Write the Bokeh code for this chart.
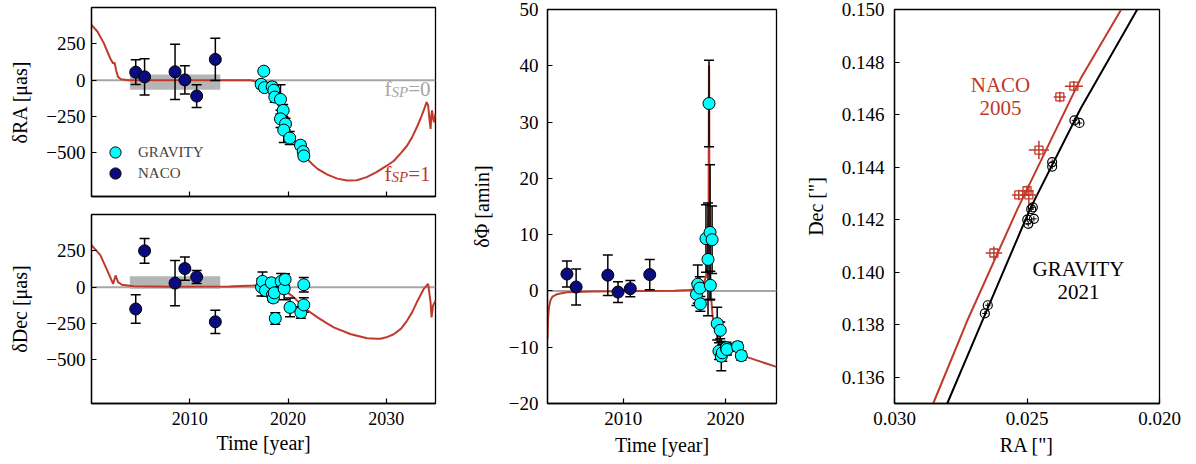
from bokeh.plotting import figure
from bokeh.layouts import row, column
from bokeh.models import (Span, BoxAnnotation, Label, Legend, LegendItem, FixedTicker, Range1d,
                          CustomJSTickFormatter)
from bokeh.embed import file_html
from bokeh.resources import INLINE

FONT = "Liberation Serif"
RED = "#c0392b"
NAVY = "#0b0b80"
CYAN = "#00ffff"
GRAY = "#a6a6a6"

# ---------------- data ----------------
naco_t = [2004.5, 2005.4, 2008.5, 2009.5, 2010.7, 2012.6]
naco_ra = [55, 23, 58, 2, -109, 143]
naco_ra_err = [85, 125, 190, 97, 78, 145]
naco_dec = [-150, 250, 28, 128, 70, -238]
naco_dec_err = [98, 85, 155, 80, 45, 80]
naco_phi = [3.0, 0.7, 2.8, -0.2, 0.4, 2.9]
naco_phi_err = [2.3, 3.2, 3.6, 1.85, 1.45, 2.7]

grav_ra_t = [2017.26, 2017.53, 2017.6, 2018.38, 2018.55, 2018.65, 2019.23, 2019.5,
             2019.23, 2019.74, 2019.56, 2020.17, 2021.26, 2021.54, 2021.6]
grav_ra = [-28, 62, -51, -46, -69, -116, -132, -208, -266, -301, -343, -398, -447, -491, -521]
grav_ra_err = [25, 20, 25, 30, 30, 35, 100, 40, 60, 40, 85, 45, 25, 25, 25]

grav_dec_t = [2017.3, 2017.4, 2017.7, 2018.3, 2018.4, 2018.5, 2018.6, 2018.7,
              2019.3, 2019.6, 2019.7, 2020.2, 2021.3, 2021.6, 2021.6]
grav_dec = [0, 40, -23, 30, -53, -74, -39, -215, 40, -11, 53, -139, -174, 17, -122]
grav_dec_err = [60, 65, 40, 30, 40, 30, 40, 40, 55, 75, 40, 65, 40, 50, 50]

grav_phi_t = [2017.17, 2017.3, 2017.5, 2017.55, 2018.1, 2018.3, 2018.4, 2018.5, 2018.53, 2018.7,
              2019.2, 2019.5, 2019.37, 2019.6, 2019.7, 2020.1, 2020.15, 2021.2, 2021.56]
grav_phi = [-0.6, 1.2, 0.5, -2.3, 9.3, 5.6, 33.3, 10.4, 1.0, 9.1,
            -5.8, -7.0, -10.7, -11.6, -11.0, -10.1, -10.4, -9.9, -11.5]
grav_phi_err = [2.0, 3.4, 2.0, 1.3, 6.0, 10.0, 7.7, 12.0, 2.5, 6.0,
                2.9, 1.5, 1.5, 2.6, 1.5, 1.0, 1.0, 0.8, 0.8]

model_ra_t = [2000.0, 2000.6, 2001.25, 2001.9, 2002.2, 2002.35, 2002.5, 2002.7, 2003.0, 2003.8,
              2010.0, 2016.2, 2016.9, 2017.5, 2018.0, 2018.5, 2019.0, 2019.5, 2020.0, 2020.5,
              2021.0, 2021.5, 2022.0, 2022.5, 2023.0, 2024.0, 2025.0, 2026.0, 2027.0, 2028.0,
              2029.0, 2030.0, 2030.75, 2031.5, 2032.1, 2032.6, 2033.1, 2033.5, 2033.8, 2034.1,
              2034.25, 2034.4, 2034.5, 2034.58, 2034.65, 2034.75, 2034.85, 2035.0]
model_ra = [380, 335, 255, 151, 115, 121, 69, 23, 7, 0,
            0, 0, -12, -35, -65, -105, -170, -250, -330, -400,
            -455, -500, -545, -580, -610, -650, -677, -690, -688, -667,
            -632, -590, -556, -500, -451, -395, -324, -260, -208, -151,
            -174, -278, -335, -243, -208, -260, -290, -230]

model_dec_t = [2000.0, 2000.9, 2001.6, 2002.2, 2002.45, 2002.7, 2003.1, 2004.3, 2008.0, 2014.0,
               2016.5, 2017.5, 2018.5, 2019.2, 2019.9, 2020.5, 2021.3, 2022.0, 2023.0, 2024.0,
               2024.7, 2026.4, 2028.05, 2029.0, 2029.4, 2030.0, 2030.75, 2031.5, 2032.1, 2032.6,
               2033.1, 2033.8, 2034.25, 2034.5, 2034.6, 2034.75, 2035.0]
model_dec = [289, 220, 116, 23, 81, 35, 17, 7, 3, 5,
             12, 17, 13, -5, -35, -65, -116, -160, -208, -250,
             -278, -324, -351, -355, -354, -345, -324, -285, -231, -175,
             -104, -12, 23, -104, -208, -127, -92]

model_phi_t = [2002.6, 2002.65, 2002.75, 2002.9, 2003.1, 2003.5, 2004.5, 2007.0, 2012.0, 2015.0,
               2016.5, 2017.3, 2017.8, 2018.1, 2018.25, 2018.36, 2018.39, 2018.41, 2018.43, 2018.5,
               2018.6, 2018.75, 2018.9, 2019.3, 2019.8, 2020.5, 2021.4, 2022.2, 2023.0, 2024.0, 2025.0]
model_phi = [-8.5, -5.0, -2.8, -1.6, -1.0, -0.6, -0.25, -0.1, 0.0, 0.05,
             0.15, 0.4, 1.0, 2.5, 5.0, 15.0, 40.0, 40.0, 22.0, 4.0,
             -1.0, -4.5, -6.5, -8.2, -9.4, -10.2, -11.2, -11.8, -12.3, -12.9, -13.5]

# right panel (astrometry on sky)
gv_ra = [0.02659, 0.02648, 0.02499, 0.02495, 0.02484, 0.02478, 0.02474, 0.02405, 0.02405, 0.02321, 0.02302]
gv_dec = [0.13843, 0.13874, 0.14200, 0.14184, 0.14240, 0.14247, 0.14203, 0.14402, 0.14419, 0.14578, 0.14568]
gv_err = [0.0001] * 11
nc_ra = [0.02625, 0.02531, 0.02493, 0.02500, 0.02455, 0.02376, 0.02323]
nc_dec = [0.14073, 0.14294, 0.14294, 0.14310, 0.14465, 0.14667, 0.14708]
nc_ra_err = [0.00031, 0.00025, 0.00030, 0.00025, 0.00038, 0.00023, 0.00034]
nc_dec_err = [0.00025, 0.00020, 0.00040, 0.00020, 0.00035, 0.00020, 0.00020]
orbit_naco_ra = [0.02854, 0.02726, 0.02537, 0.02298, 0.021445]
orbit_naco_dec = [0.135, 0.13814, 0.14238, 0.14736, 0.150]
orbit_grav_ra = [0.02801, 0.02669, 0.02487, 0.02298, 0.02084]
orbit_grav_dec = [0.135, 0.13814, 0.14244, 0.14622, 0.150]

ra_ticks = [-500, -250, 0, 250]
year_ticks_left = [2010, 2020, 2030]
year_ticks_mid = [2010, 2020]
phi_ticks = [-20, -10, 0, 10, 20, 30, 40, 50]
dec_sky_ticks = [0.136, 0.138, 0.140, 0.142, 0.144, 0.146, 0.148, 0.150]
ra_sky_ticks = [0.030, 0.025, 0.020]

MINUS_FMT = CustomJSTickFormatter(code="return tick < 0 ? '\u2212' + Math.abs(tick) : '' + tick;")
FIX3_FMT = CustomJSTickFormatter(code="return tick.toFixed(3);")
BLANK_FMT = CustomJSTickFormatter(code="return '';")


def style(p, xticks, yticks, xfmt, yfmt, tick_fs="19px", x_tick_fs=None):
    p.outline_line_color = "black"
    p.outline_line_width = 1.3
    p.background_fill_color = "white"
    p.border_fill_color = "white"
    p.xgrid.visible = False
    p.ygrid.visible = False
    for ax, ticks, fmt in ((p.xaxis, xticks, xfmt), (p.yaxis, yticks, yfmt)):
        ax.ticker = FixedTicker(ticks=ticks, minor_ticks=[])
        ax.formatter = fmt
        ax.axis_line_color = "black"
        ax.axis_line_width = 1.3
        ax.major_tick_in = 5
        ax.major_tick_out = 0
        ax.major_tick_line_color = "black"
        ax.major_tick_line_width = 1.2
        ax.minor_tick_line_color = None
        ax.major_label_text_font = FONT
        ax.major_label_text_font_size = tick_fs
        ax.major_label_text_color = "black"
        ax.axis_label_text_font = FONT
        ax.axis_label_text_font_size = "20px"
        ax.axis_label_text_font_style = "normal"
        ax.axis_label_text_color = "black"
    if x_tick_fs:
        p.xaxis.major_label_text_font_size = x_tick_fs


def vbars(p, x, y, err, color="black", width=1.5, cap=10):
    lo = [a - e for a, e in zip(y, err)]
    hi = [a + e for a, e in zip(y, err)]
    p.segment(x, lo, x, hi, line_color=color, line_width=width)
    if cap:
        p.scatter(list(x) + list(x), lo + hi, marker="dash", size=cap, line_color=color, line_width=width)


def hbars(p, x, y, err, color="black", width=1.5):
    lo = [a - e for a, e in zip(x, err)]
    hi = [a + e for a, e in zip(x, err)]
    p.segment(lo, y, hi, y, line_color=color, line_width=width)


def fsp(p, x, y, digit, color):
    common = dict(x=x, y=y, text_color=color, text_font=FONT, text_align="right", text_baseline="alphabetic")
    p.add_layout(Label(text="=" + digit, text_font_size="21px", **common))
    p.add_layout(Label(text="SP", text_font_size="15px", text_font_style="italic", x_offset=-22.5, y_offset=-3, **common))
    p.add_layout(Label(text="f", text_font_size="21px", x_offset=-39, **common))


def legend_entry(p, label, rend, loc):
    lg = Legend(items=[LegendItem(label=label, renderers=[rend])], location=loc,
                background_fill_alpha=0, border_line_alpha=0,
                label_text_font=FONT, label_text_font_size="15px", glyph_width=28, glyph_height=28,
                label_standoff=9, spacing=0, margin=0, padding=0, label_height=28)
    p.add_layout(lg)


MS = 12

# ---------------- top-left: delta RA ----------------
p1 = figure(width=440, height=207, x_range=Range1d(2000, 2035), y_range=Range1d(-800, 500),
            output_backend="svg", toolbar_location=None,
            min_border_left=91, min_border_right=5, min_border_top=7, min_border_bottom=11)
style(p1, year_ticks_left, ra_ticks, BLANK_FMT, MINUS_FMT)
p1.xaxis.major_label_text_font_size = "2px"
p1.xaxis.major_label_standoff = 0
p1.yaxis.axis_label = "δRA [μas]"
p1.yaxis.major_label_standoff = 6
p1.yaxis.axis_label_standoff = 12
p1.add_layout(Span(location=0, dimension="width", line_color=GRAY, line_width=2, level="underlay"))
p1.add_layout(BoxAnnotation(left=2003.9, right=2013.1, bottom=-65, top=40, fill_color="#b5b5b5",
                            fill_alpha=1.0, line_alpha=0, level="underlay"))
p1.line(model_ra_t, model_ra, line_color=RED, line_width=2)
vbars(p1, naco_t, naco_ra, naco_ra_err)
vbars(p1, grav_ra_t, grav_ra, grav_ra_err)
r_naco = p1.scatter(naco_t, naco_ra, size=MS, fill_color=NAVY, line_color="black", line_width=1)
r_grav = p1.scatter(grav_ra_t, grav_ra, size=MS, fill_color=CYAN, line_color="black", line_width=1)
fsp(p1, 2034.5, -62, "0", GRAY)
fsp(p1, 2034.5, -645, "1", RED)
legend_entry(p1, "GRAVITY", r_grav, (10, 30))
legend_entry(p1, "NACO", r_naco, (10, 9))

# ---------------- bottom-left: delta Dec ----------------
p2 = figure(width=440, height=257, x_range=Range1d(2000, 2035), y_range=Range1d(-800, 500),
            output_backend="svg", toolbar_location=None,
            min_border_left=91, min_border_right=5, min_border_top=7, min_border_bottom=61)
style(p2, year_ticks_left, ra_ticks, MINUS_FMT, MINUS_FMT, x_tick_fs="18px")
p2.yaxis.axis_label = "δDec [μas]"
p2.xaxis.axis_label = "Time [year]"
p2.yaxis.major_label_standoff = 6
p2.yaxis.axis_label_standoff = 12
p2.xaxis.major_label_standoff = 8
p2.xaxis.axis_label_standoff = 4
p2.add_layout(Span(location=0, dimension="width", line_color=GRAY, line_width=2, level="underlay"))
p2.add_layout(BoxAnnotation(left=2003.9, right=2013.1, bottom=-11, top=76, fill_color="#b5b5b5",
                            fill_alpha=1.0, line_alpha=0, level="underlay"))
p2.line(model_dec_t, model_dec, line_color=RED, line_width=2)
vbars(p2, naco_t, naco_dec, naco_dec_err)
vbars(p2, grav_dec_t, grav_dec, grav_dec_err)
p2.scatter(naco_t, naco_dec, size=MS, fill_color=NAVY, line_color="black", line_width=1)
p2.scatter(grav_dec_t, grav_dec, size=MS, fill_color=CYAN, line_color="black", line_width=1)

# ---------------- middle: delta Phi ----------------
p3 = figure(width=340, height=464, x_range=Range1d(2002.6, 2025), y_range=Range1d(-20, 50),
            output_backend="svg", toolbar_location=None,
            min_border_left=107, min_border_right=4, min_border_top=9, min_border_bottom=61)
style(p3, year_ticks_mid, phi_ticks, MINUS_FMT, MINUS_FMT)
p3.yaxis.axis_label = "δΦ [amin]"
p3.xaxis.axis_label = "Time [year]"
p3.yaxis.major_label_standoff = 9
p3.yaxis.axis_label_standoff = 13
p3.xaxis.major_label_standoff = 8
p3.xaxis.axis_label_standoff = 6
p3.add_layout(Span(location=0, dimension="width", line_color=GRAY, line_width=2, level="underlay"))
p3.line(model_phi_t, model_phi, line_color=RED, line_width=2)
vbars(p3, naco_t, naco_phi, naco_phi_err)
vbars(p3, grav_phi_t, grav_phi, grav_phi_err)
p3.scatter(naco_t, naco_phi, size=MS, fill_color=NAVY, line_color="black", line_width=1)
p3.scatter(grav_phi_t, grav_phi, size=MS, fill_color=CYAN, line_color="black", line_width=1)

# ---------------- right: sky positions ----------------
p4 = figure(width=416, height=464, x_range=Range1d(0.030, 0.020), y_range=Range1d(0.135, 0.150),
            output_backend="svg", toolbar_location=None,
            min_border_left=114, min_border_right=37, min_border_top=9, min_border_bottom=61)
style(p4, ra_sky_ticks, dec_sky_ticks, FIX3_FMT, FIX3_FMT)
p4.yaxis.axis_label = 'Dec ["]'
p4.xaxis.axis_label = 'RA ["]'
p4.yaxis.major_label_standoff = 10
p4.yaxis.axis_label_standoff = 12
p4.xaxis.major_label_standoff = 8
p4.xaxis.axis_label_standoff = 6
p4.line(orbit_naco_ra, orbit_naco_dec, line_color=RED, line_width=2)
p4.line(orbit_grav_ra, orbit_grav_dec, line_color="black", line_width=2)
hbars(p4, nc_ra, nc_dec, nc_ra_err, color=RED)
vbars(p4, nc_ra, nc_dec, nc_dec_err, color=RED, cap=0)
p4.scatter(nc_ra, nc_dec, marker="square", size=8, fill_color=None, line_color=RED, line_width=1.3)
hbars(p4, gv_ra, gv_dec, gv_err, width=1)
vbars(p4, gv_ra, gv_dec, gv_err, width=1, cap=0)
p4.scatter(gv_ra, gv_dec, marker="circle", size=9, fill_color=None, line_color="black", line_width=1.2)
for txt, yy in (("NACO", 0.14712), ("2005", 0.14625)):
    p4.add_layout(Label(x=0.0260, y=yy, text=txt, text_align="center", text_baseline="middle",
                        text_font=FONT, text_font_size="21px", text_color=RED))
for txt, yy in (("GRAVITY", 0.14011), ("2021", 0.13924)):
    p4.add_layout(Label(x=0.02306, y=yy, text=txt, text_align="center", text_baseline="middle",
                        text_font=FONT, text_font_size="21px", text_color="black"))

layout = row(column(p1, p2), p3, p4)
open("out.html", "w").write(file_html(layout, INLINE))
